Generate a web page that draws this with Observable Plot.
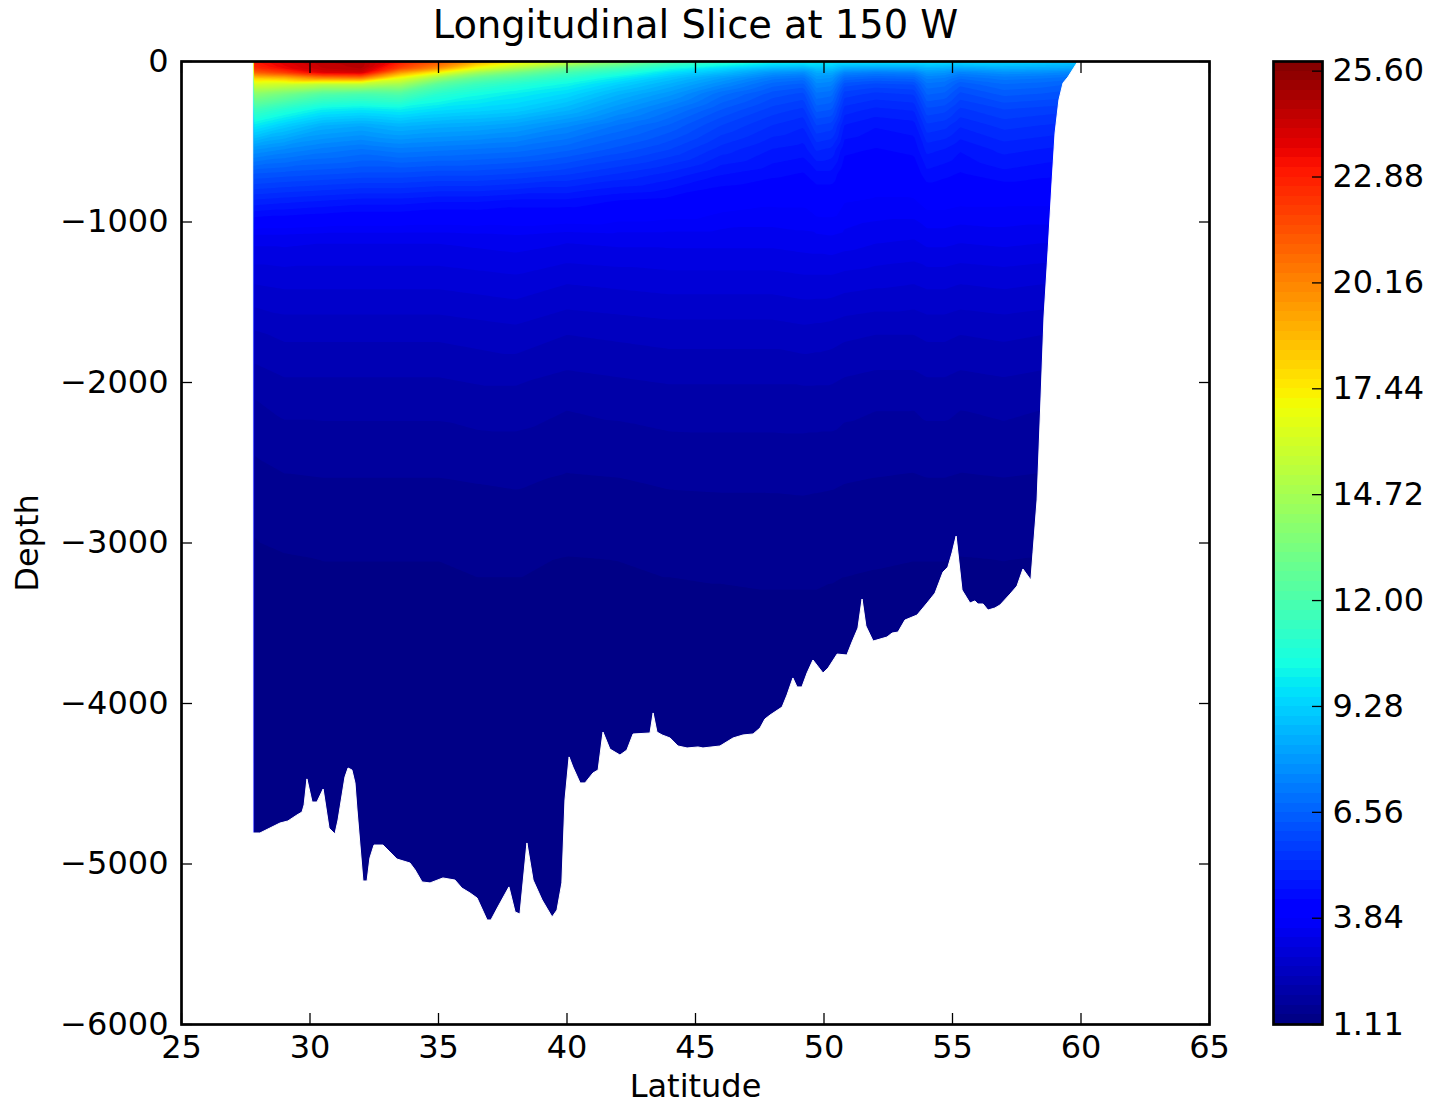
<!DOCTYPE html>
<html><head><meta charset="utf-8">
<script src="https://cdn.jsdelivr.net/npm/d3@7"></script>
<script src="https://cdn.jsdelivr.net/npm/@observablehq/plot@0.6"></script>
<style>
body{margin:0;background:#fff;}
#main{position:absolute;left:0;top:0;}
#cbar{position:absolute;left:1240px;top:0;}
svg{max-width:none !important;overflow:visible;}
</style></head><body><div id="main"></div><div id="cbar"></div>
<script>
// ---- data ----
const title = "Longitudinal Slice at 150 W";
const latitudes = [27.8, 29, 30.5, 32, 33.5, 35, 36.5, 38, 40, 42, 44, 46, 48, 49.2, 49.7, 50.3, 50.8, 52, 53.5, 54.0, 54.7, 55.3, 57, 58.5, 60];
const depths = [0, 40, 70, 100, 140, 200, 300, 400, 550, 700, 870, 1100, 1350, 1700, 2100, 2600, 3100, 4000, 5500];
const temperature = [
  [23.0, 23.8, 24.6, 24.8, 23.0, 21.5, 19.2, 17.6, 16.0, 14.0, 12.2, 11.2, 10.3, 10.1, 10.0, 10.0, 9.9, 9.8, 9.8, 9.8, 9.7, 9.6, 9.5, 9.3, 9.0],
  [22.5, 23.5, 24.4, 24.7, 22.0, 20.0, 17.0, 15.2, 13.0, 11.8, 10.5, 9.6, 8.8, 8.6, 9.0, 9.0, 8.4, 8.3, 8.3, 8.6, 8.5, 8.3, 8.5, 8.4, 8.2],
  [21.0, 22.0, 23.8, 24.0, 19.5, 17.0, 14.5, 13.2, 11.8, 10.8, 9.6, 8.8, 7.8, 7.6, 8.3, 8.3, 7.4, 7.2, 7.3, 7.9, 7.8, 7.4, 7.7, 7.6, 7.4],
  [18.5, 19.0, 20.5, 20.8, 17.0, 14.5, 12.8, 12.0, 11.0, 10.0, 9.0, 8.1, 7.2, 7.0, 7.9, 7.8, 6.8, 6.6, 6.7, 7.4, 7.3, 6.9, 7.2, 7.1, 6.9],
  [16.3, 16.0, 15.5, 15.5, 14.8, 12.5, 11.5, 10.9, 10.2, 9.3, 8.5, 7.6, 6.7, 6.5, 7.5, 7.4, 6.2, 6.0, 6.1, 7.0, 6.9, 6.4, 6.8, 6.7, 6.5],
  [14.0, 13.3, 12.3, 12.0, 12.2, 11.0, 10.4, 10.0, 9.5, 8.6, 7.9, 6.9, 6.2, 6.0, 7.0, 6.9, 5.7, 5.5, 5.6, 6.6, 6.5, 6.0, 6.4, 6.3, 6.1],
  [11.6, 10.8, 10.0, 9.8, 10.0, 9.6, 9.4, 9.2, 8.6, 7.8, 7.1, 6.3, 5.7, 5.5, 6.4, 6.3, 5.2, 5.0, 5.1, 6.0, 5.9, 5.5, 5.8, 5.7, 5.6],
  [9.9, 9.2, 8.5, 8.3, 8.6, 8.4, 8.3, 8.1, 7.6, 7.0, 6.5, 5.8, 5.3, 5.1, 5.8, 5.7, 4.8, 4.6, 4.7, 5.5, 5.4, 5.1, 5.4, 5.3, 5.2],
  [7.8, 7.5, 7.2, 7.0, 7.2, 7.1, 7.0, 6.9, 6.6, 6.2, 5.8, 5.2, 4.8, 4.7, 5.1, 5.0, 4.4, 4.3, 4.4, 4.9, 4.8, 4.6, 4.9, 4.8, 4.7],
  [6.3, 6.2, 6.1, 6.0, 6.0, 5.9, 5.9, 5.8, 5.6, 5.3, 5.0, 4.6, 4.4, 4.3, 4.5, 4.5, 4.1, 4.0, 4.1, 4.5, 4.4, 4.3, 4.5, 4.4, 4.3],
  [5.0, 4.9, 4.8, 4.7, 4.7, 4.6, 4.6, 4.5, 4.5, 4.3, 4.2, 4.0, 3.9, 3.9, 4.05, 4.05, 3.85, 3.8, 3.8, 3.95, 3.95, 3.9, 3.9, 3.9, 3.9],
  [3.45, 3.45, 3.4, 3.4, 3.4, 3.4, 3.45, 3.5, 3.4, 3.45, 3.45, 3.45, 3.45, 3.5, 3.52, 3.55, 3.5, 3.4, 3.35, 3.45, 3.45, 3.4, 3.45, 3.4, 3.4],
  [2.9, 2.95, 2.95, 2.95, 2.95, 2.95, 3.0, 3.05, 2.9, 2.95, 3.0, 3.0, 3.0, 3.05, 3.05, 3.05, 3.0, 2.95, 2.9, 2.95, 2.95, 2.9, 2.95, 2.9, 2.9],
  [2.3, 2.4, 2.4, 2.4, 2.4, 2.4, 2.45, 2.5, 2.35, 2.4, 2.45, 2.45, 2.45, 2.5, 2.48, 2.45, 2.4, 2.35, 2.35, 2.4, 2.4, 2.35, 2.4, 2.35, 2.35],
  [1.85, 1.95, 1.95, 1.95, 1.95, 1.95, 2.0, 2.0, 1.9, 1.95, 2.0, 2.0, 2.0, 2.0, 2.0, 2.0, 1.95, 1.9, 1.9, 1.95, 1.95, 1.9, 1.95, 1.9, 1.9],
  [1.5, 1.58, 1.6, 1.6, 1.6, 1.6, 1.62, 1.64, 1.58, 1.6, 1.64, 1.65, 1.65, 1.66, 1.65, 1.64, 1.62, 1.6, 1.58, 1.6, 1.6, 1.58, 1.6, 1.58, 1.58],
  [1.3, 1.34, 1.36, 1.36, 1.36, 1.36, 1.38, 1.38, 1.35, 1.36, 1.38, 1.39, 1.4, 1.4, 1.4, 1.39, 1.38, 1.37, 1.36, 1.36, 1.36, 1.35, 1.36, 1.35, 1.35],
  [1.2, 1.2, 1.2, 1.2, 1.2, 1.2, 1.2, 1.2, 1.2, 1.2, 1.2, 1.2, 1.2, 1.2, 1.2, 1.2, 1.2, 1.2, 1.2, 1.2, 1.2, 1.2, 1.2, 1.2, 1.2],
  [1.14, 1.14, 1.14, 1.14, 1.14, 1.14, 1.14, 1.14, 1.14, 1.14, 1.14, 1.14, 1.14, 1.14, 1.14, 1.14, 1.14, 1.14, 1.14, 1.14, 1.14, 1.14, 1.14, 1.14, 1.14]
];
// seafloor / land outline (latitude, depth in m)
const bottomLat = [25, 27.79, 27.80, 28.07, 28.46, 28.85, 29.16, 29.51, 29.71, 29.79,
  29.90, 30.10, 30.29, 30.53, 30.76, 30.99, 31.11, 31.38, 31.50, 31.65,
  31.77, 31.85, 32.08, 32.24, 32.35, 32.51, 32.86, 33.13, 33.40, 33.91,
  34.11, 34.38, 34.69, 35.19, 35.66, 35.93, 36.25, 36.52, 36.91, 37.06,
  37.33, 37.76, 38.00, 38.19, 38.46, 38.70, 39.05, 39.44, 39.63, 39.82,
  39.94, 40.10, 40.25, 40.53, 40.72, 41.03, 41.23, 41.42, 41.69, 42.08,
  42.35, 42.59, 43.25, 43.37, 43.52, 43.72, 44.03, 44.34, 44.69, 45.12,
  45.31, 45.97, 46.48, 46.87, 47.26, 47.53, 47.72, 47.92, 48.39, 48.58,
  48.81, 48.97, 49.16, 49.36, 49.59, 49.98, 50.18, 50.53, 50.91, 51.11,
  51.34, 51.50, 51.65, 51.93, 52.47, 52.67, 52.90, 53.17, 53.64, 54.03,
  54.34, 54.65, 54.84, 55.00, 55.16, 55.39, 55.70, 55.89, 56.01, 56.21,
  56.40, 56.67, 56.87, 57.26, 57.53, 57.76, 58.07, 58.15, 58.31, 58.46,
  58.58, 58.74, 58.89, 59.01, 59.16, 59.32, 59.51, 59.86, 59.90, 65];
const bottomDepth = [0, 0, -4810, -4810, -4779, -4748, -4735, -4698, -4679, -4635,
  -4473, -4617, -4617, -4536, -4779, -4816, -4729, -4461, -4405, -4417,
  -4498, -4667, -5109, -5109, -4966, -4885, -4885, -4928, -4972, -4997,
  -5040, -5115, -5121, -5090, -5103, -5153, -5184, -5215, -5352, -5352,
  -5271, -5146, -5302, -5315, -4872, -5103, -5227, -5333, -5290, -5121,
  -4604, -4336, -4399, -4498, -4498, -4436, -4417, -4181, -4287, -4324,
  -4293, -4193, -4187, -4062, -4181, -4199, -4218, -4268, -4280, -4274,
  -4280, -4268, -4218, -4199, -4193, -4156, -4100, -4075, -4025, -3950,
  -3844, -3900, -3900, -3813, -3732, -3813, -3782, -3695, -3701, -3620,
  -3533, -3352, -3520, -3614, -3589, -3564, -3558, -3483, -3452, -3377,
  -3315, -3184, -3153, -3065, -2960, -3296, -3377, -3364, -3383, -3383,
  -3421, -3408, -3389, -3321, -3271, -3165, -3234, -3065, -2735, -2112,
  -1595, -1178, -760, -449, -243, -137, -100, -12, 0, 0];
const xTicks = [25, 30, 35, 40, 45, 50, 55, 60, 65];
const yTicks = [0, -1000, -2000, -3000, -4000, -5000, -6000];
const colorbarTicks = [1.11, 3.84, 6.56, 9.28, 12.00, 14.72, 17.44, 20.16, 22.88, 25.60];
const floorDepth = -6000;

// ---- build tables ----
const samples = [];
depths.forEach((d, i) => latitudes.forEach((lat, j) => samples.push({lat, depth: -d, temp: temperature[i][j]})));
const seafloor = bottomLat.map((lat, i) => ({lat, depth: bottomDepth[i]}));

const levelCount = 100;
const levelMin = colorbarTicks[0];
const levelStep = (colorbarTicks[colorbarTicks.length - 1] - levelMin) / 99;
const levelMax = levelMin + levelCount * levelStep;
const thresholds = d3.range(levelCount).map(k => levelMin + k * levelStep);
const bands = thresholds.map(t => ({lo: t, hi: t + levelStep}));

// jet colormap (matplotlib)
const jetStops = [0, 0.11, 0.125, 0.34, 0.35, 0.375, 0.64, 0.65, 0.66, 0.89, 0.91, 1];
const jetColors = ["#000080", "#0000ff", "#0000ff", "#00dbff", "#00e6f7", "#15ffe2", "#efff08", "#f7f600", "#ffec00", "#ff1300", "#e80000", "#800000"];
const colorScale = {
  type: "linear",
  domain: jetStops.map(f => levelMin + f * (levelMax - levelMin) - levelStep / 2),
  range: jetColors, interpolate: "rgb", clamp: true
};

const fmtDepth = d => d < 0 ? "\u2212" + Math.abs(d) : String(d);
const style = {fontFamily: "DejaVu Sans", fontSize: "32px", color: "black", background: "white", overflow: "visible"};

const main = Plot.plot({
  width: 1240, height: 1104,
  marginLeft: 181, marginRight: 31, marginTop: 61, marginBottom: 80,
  x: {domain: [25, 65]},
  y: {domain: [floorDepth, 0]},
  color: colorScale,
  style,
  marks: [
    Plot.contour(samples, {x: "lat", y: "depth", fill: "temp", thresholds, interpolate: "barycentric", stroke: "none", pixelSize: 2}),
    Plot.areaY(seafloor, {x: "lat", y1: () => floorDepth, y2: "depth", fill: "white", stroke: "white", strokeWidth: 1}),
    Plot.frame({stroke: "black", strokeWidth: 2.7}),
    Plot.axisX({anchor: "bottom", ticks: xTicks, tickSize: -11, tickPadding: 22, tickFormat: d => String(d), strokeWidth: 1.3, fontSize: 32, label: null}),
    Plot.axisX({anchor: "top", ticks: xTicks, tickSize: -11, fill: "none", strokeWidth: 1.3, label: null}),
    Plot.axisY({anchor: "left", ticks: yTicks, tickSize: -11, tickPadding: 24, tickFormat: fmtDepth, strokeWidth: 1.3, fontSize: 32, label: null}),
    Plot.axisY({anchor: "right", ticks: yTicks, tickSize: -11, fill: "none", strokeWidth: 1.3, label: null}),
    Plot.text([title], {text: d => d, frameAnchor: "top", lineAnchor: "middle", dy: -36, fontSize: 38.4}),
    Plot.text(["Depth"], {text: d => d, frameAnchor: "left", textAnchor: "middle", lineAnchor: "middle", dx: -154, rotate: -90, fontSize: 32}),
    Plot.text(["Latitude"], {text: d => d, frameAnchor: "bottom", lineAnchor: "middle", dy: 62, fontSize: 32})
  ]
});
document.getElementById("main").append(main);

const cbar = Plot.plot({
  width: 193, height: 1104,
  marginLeft: 33, marginRight: 111, marginTop: 61, marginBottom: 80,
  y: {domain: [levelMin, levelMax]},
  color: colorScale,
  style,
  marks: [
    Plot.rect(bands, {y1: "lo", y2: "hi", fill: "lo", shapeRendering: "crispEdges"}),
    Plot.frame({stroke: "black", strokeWidth: 2.7}),
    Plot.axisY({anchor: "right", ticks: colorbarTicks, tickSize: -11, tickPadding: 21, tickFormat: d => d.toFixed(2), strokeWidth: 1.3, fontSize: 32, label: null})
  ]
});
document.getElementById("cbar").append(cbar);
</script>
</body></html>
